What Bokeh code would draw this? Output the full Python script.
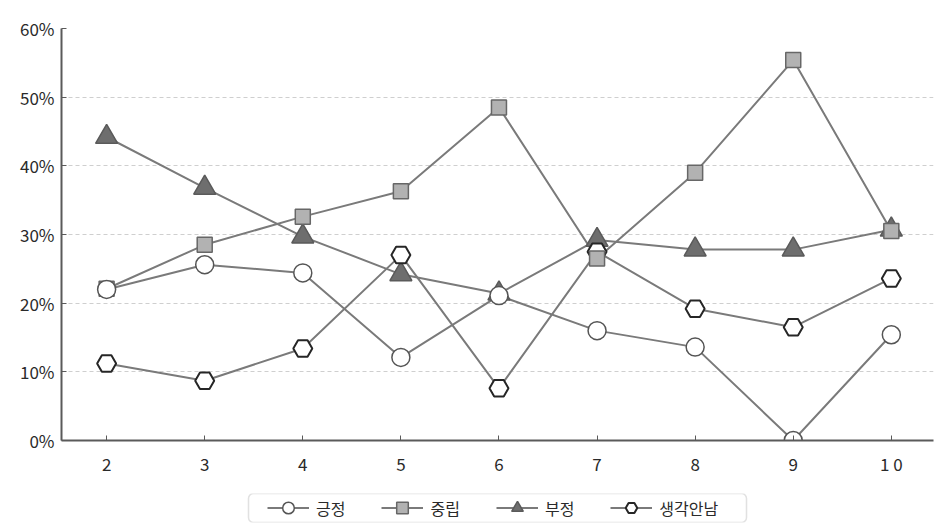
from bokeh.plotting import figure
from bokeh.layouts import column
from bokeh.models import (ColumnDataSource, Range1d, FixedTicker, PrintfTickFormatter,
                          Legend, LegendItem, BoxAnnotation)
from bokeh.embed import file_html
from bokeh.resources import INLINE

categories = [2, 3, 4, 5, 6, 7, 8, 9, 10]
x_labels = ["2", "3", "4", "5", "6", "7", "8", "9", "1 0"]
positive = [22.0, 25.6, 24.4, 12.1, 21.1, 16.0, 13.6, 0.0, 15.4]
neutral = [22.1, 28.5, 32.6, 36.3, 48.5, 26.5, 39.0, 55.4, 30.5]
negative = [44.2, 36.8, 29.7, 24.2, 21.4, 29.2, 27.8, 27.8, 30.7]
no_idea = [11.2, 8.7, 13.4, 27.0, 7.6, 27.5, 19.2, 16.5, 23.6]
series_names = ["긍정", "중립", "부정", "생각안남"]
y_ticks = [0, 10, 20, 30, 40, 50, 60]

FONT = "Noto Sans CJK KR"
LINE = "#7a7a7a"
BL, BR = 61, 14  # shared horizontal borders of both strips

p = figure(width=947, height=478, output_backend="svg", toolbar_location=None,
           x_range=Range1d(1.54, 10.43), y_range=Range1d(0, 60),
           min_border_left=BL, min_border_right=BR, min_border_top=28, min_border_bottom=37)
p.outline_line_color = None
p.background_fill_color = "white"

p.xgrid.grid_line_color = None
p.ygrid.grid_line_color = "#cfcfcf"
p.ygrid.grid_line_dash = "4 3"
p.ygrid.grid_line_width = 1

p.xaxis.ticker = FixedTicker(ticks=categories)
p.xaxis.major_label_overrides = {c: l for c, l in zip(categories, x_labels)}
p.yaxis.ticker = FixedTicker(ticks=y_ticks)
p.yaxis.formatter = PrintfTickFormatter(format="%d%%")

for ax in (p.xaxis[0], p.yaxis[0]):
    ax.axis_line_color = "#5a5a5a"
    ax.axis_line_width = 2
    ax.major_tick_line_color = "#5a5a5a"
    ax.major_tick_in = 5
    ax.major_tick_out = 0
    ax.minor_tick_line_color = None
    ax.major_label_text_font = FONT
    ax.major_label_text_font_size = "17px"
    ax.major_label_text_color = "#2a2a2a"
p.xaxis.major_label_standoff = 10
p.yaxis.major_label_standoff = 7

src = {name: ColumnDataSource(dict(x=categories, y=vals))
       for name, vals in zip(series_names, [positive, neutral, negative, no_idea])}

styles = {
    "부정": dict(marker="triangle", size=22, fill_color="#6e6e6e", line_color="#5a5a5a", line_width=1.5),
    "생각안남": dict(marker="hex", size=19, fill_color="white", line_color="#262626", line_width=2),
    "중립": dict(marker="square", size=15, fill_color="#b2b2b2", line_color="#676767", line_width=1.5),
    "긍정": dict(marker="circle", size=18, fill_color="white", line_color="#555555", line_width=1.5),
}
draw_order = ["부정", "생각안남", "중립", "긍정"]

for name in series_names:
    p.line("x", "y", source=src[name], line_color=LINE, line_width=2)
for name in draw_order:
    p.scatter("x", "y", source=src[name], **styles[name])

# legend strip below the chart
lf = figure(width=947, height=46, output_backend="svg", toolbar_location=None,
            x_range=Range1d(-20, -19), y_range=Range1d(-20, -19),
            x_axis_location=None, y_axis_location=None,
            min_border_left=BL, min_border_right=BR, min_border_top=15, min_border_bottom=2)
lf.grid.visible = False
lf.outline_line_color = None
lf.add_layout(BoxAnnotation(left=187, right=685, left_units="screen", right_units="screen",
                            fill_alpha=0, line_color="#9a9a9a", line_width=1.5, border_radius=5))

items = []
for name in series_names:
    ln = lf.line("x", "y", source=src[name], line_color=LINE, line_width=2)
    mk = lf.scatter("x", "y", source=src[name], **styles[name])
    items.append(LegendItem(label=name, renderers=[ln, mk]))

legend = Legend(items=items, orientation="horizontal", location=(206, 0))
legend.label_text_font = FONT
legend.label_text_font_size = "16px"
legend.label_text_color = "#2a2a2a"
legend.glyph_width = 42
legend.glyph_height = 29
legend.spacing = 36
legend.padding = 0
legend.margin = 0
legend.border_line_color = None
legend.background_fill_alpha = 0
legend.label_standoff = 7
lf.add_layout(legend, "center")

layout = column(p, lf, spacing=0)
open("out.html", "w").write(file_html(layout, INLINE))
